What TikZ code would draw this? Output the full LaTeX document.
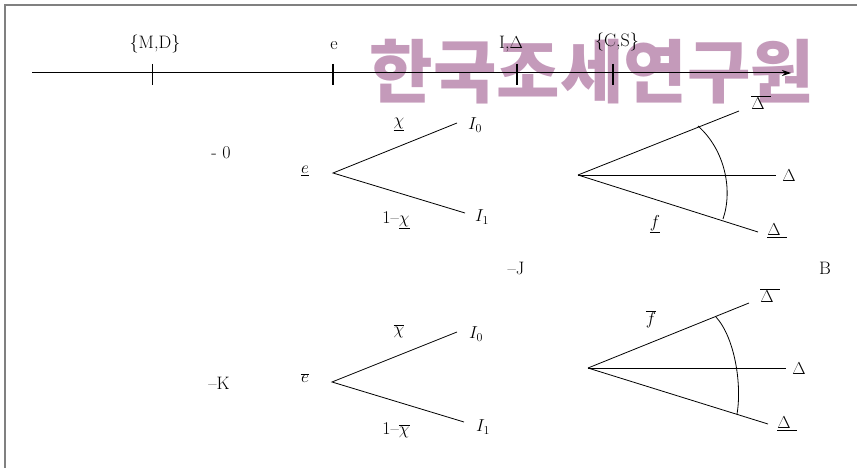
\documentclass[tikz,border=0pt]{standalone}
\usepackage{fontspec}
\newfontfamily\krfont{Noto Sans CJK KR}
\usetikzlibrary{arrows.meta}
\definecolor{wm}{RGB}{196,154,186}
\definecolor{framegray}{RGB}{128,128,128}
\begin{document}
\begin{tikzpicture}[x=1pt,y=-1pt,
  lbl/.style={inner sep=0pt, font=\fontsize{18}{20}\selectfont},
  ln/.style={line width=0.8pt},
  tick/.style={line width=1pt},
  frameline/.style={line width=1.6pt, draw=framegray}]
\useasboundingbox (0,0) rectangle (857,468);
% frame
\coordinate (fTL) at (5,5);
\coordinate (fTR) at (857,5);
\coordinate (fBL) at (5,468);
\draw[frameline] (fTR) -- (fTL) -- (fBL);
% watermark
\node[inner sep=0pt, text=wm, font=\krfont\bfseries\fontsize{69}{69}\selectfont] (wmark) at (592,72) {한국조세연구원};
% axis
\coordinate (axL) at (32,73);
\coordinate (axR) at (791,73);
\draw[line width=1pt, -{Stealth[length=9pt,width=6pt]}] (axL) -- (axR);
\foreach \n/\x/\w in {t1/152/0.9pt,t2/333/1.6pt,t3/517/1.1pt,t4/613/1.3pt}{
  \coordinate (\n a) at (\x,64);
  \coordinate (\n b) at (\x,85);
  \draw[tick, line width=\w] (\n a) -- (\n b);
}
\node[lbl] (lMD) at (155,44) {\{M,D\}};
\node[lbl] (le) at (334,46) {e};
\node[lbl] (lID) at (511,44) {I,$\Delta$};
\node[lbl] (lCS) at (617,42) {\{C,S\}};
% side labels
\node[lbl] (l0) at (221,153) {- 0};
\node[lbl] (lK) at (219,383) {--K};
\node[lbl] (lJ) at (516,268) {--J};
\node[lbl] (lB) at (825,268) {B};
% top tree
\coordinate (tA) at (333,173);
\coordinate (tU) at (457,123);
\coordinate (tL) at (465,213);
\draw[ln] (tU) -- (tA) -- (tL);
\node[lbl] (te) at (305,171) {$\underline{e}$};
\node[lbl] (tchi) at (399,124) {$\underline{\chi}$};
\node[lbl] (tI0) at (475,125) {$I_0$};
\node[lbl] (tI1) at (482,217) {$I_1$};
\node[lbl] (t1chi) at (396,220) {1--$\underline{\chi}$};
% bottom tree
\coordinate (bA) at (332,382);
\coordinate (bU) at (457,332);
\coordinate (bL) at (464,422);
\draw[ln] (bU) -- (bA) -- (bL);
\node[lbl] (be) at (305,378) {$\overline{e}$};
\node[lbl] (bchi) at (399,331) {$\overline{\chi}$};
\node[lbl] (bI0) at (476,334) {$I_0$};
\node[lbl] (bI1) at (483,427) {$I_1$};
\node[lbl] (b1chi) at (396,430) {1--$\overline{\chi}$};
% top fan
\coordinate (fA) at (578,175);
\coordinate (fU) at (739,111);
\coordinate (fM) at (776,175);
\coordinate (fL) at (758,232);
\draw[ln] (fA) -- (fU);
\draw[ln] (fA) -- (fM);
\draw[ln] (fA) -- (fL);
\coordinate (fa1) at (698,126);
\coordinate (fa2) at (723,219);
\draw[ln] (fa1) .. controls (725,150) and (733,190) .. (fa2);
\node[lbl] (fDU) at (761,103) {$\overline{\Delta\,\,}$};
\node[lbl] (fDM) at (789,176) {$\Delta$};
\node[lbl] (fDL) at (777,231) {$\underline{\Delta\,\,}$};
\node[lbl] (ff) at (655,224) {$\underline{f}$};
% bottom fan
\coordinate (gA) at (588,368);
\coordinate (gU) at (749,303);
\coordinate (gM) at (786,368);
\coordinate (gL) at (768,424);
\draw[ln] (gA) -- (gU);
\draw[ln] (gA) -- (gM);
\draw[ln] (gA) -- (gL);
\coordinate (ga1) at (716,317);
\coordinate (ga2) at (737,414);
\draw[ln] (ga1) .. controls (735,338) and (742,385) .. (ga2);
\node[lbl] (gDU) at (770,296) {$\overline{\Delta\,\,}$};
\node[lbl] (gDM) at (799,369) {$\Delta$};
\node[lbl] (gDL) at (787,424) {$\underline{\Delta\,\,}$};
\node[lbl] (gf) at (651,319) {$\overline{f}$};
\end{tikzpicture}
\end{document}
